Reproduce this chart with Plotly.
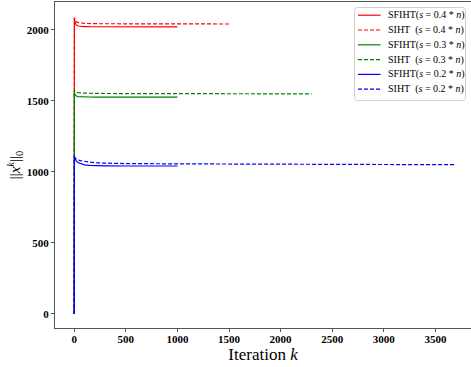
import plotly.graph_objects as go

# Iteration indices (sparse points)
k_sfiht = [0, 2, 5, 10, 20, 40, 70, 100, 150, 200, 300, 500, 1000]
k_siht_04 = [0, 2, 5, 10, 20, 40, 70, 100, 200, 500, 1000, 1510]
k_siht_03 = [0, 2, 5, 10, 20, 40, 70, 100, 200, 500, 1000, 2300]
k_siht_02 = [0, 2, 5, 10, 20, 40, 70, 100, 150, 200, 300, 500, 1000, 2000, 3690]

sfiht_04 = [0, 2085, 2070, 2050, 2035, 2028, 2025, 2024, 2023, 2023, 2023, 2022, 2022]
siht_04 = [0, 2087, 2076, 2066, 2058, 2052, 2048, 2046, 2044, 2043, 2042, 2042]
sfiht_03 = [0, 1565, 1552, 1542, 1535, 1531, 1529, 1528, 1528, 1527, 1527, 1527, 1527]
siht_03 = [0, 1578, 1570, 1565, 1561, 1558, 1556, 1555, 1553, 1552, 1551, 1550]
sfiht_02 = [0, 1115, 1100, 1090, 1078, 1065, 1055, 1050, 1046, 1044, 1043, 1042, 1042]
siht_02 = [0, 1105, 1100, 1096, 1091, 1084, 1078, 1074, 1069, 1065, 1062, 1059, 1057, 1054, 1051]

labels = [
    "SFIHT(<i>s</i> = 0.4 * <i>n</i>)",
    "SIHT\u00a0\u00a0(<i>s</i> = 0.4 * <i>n</i>)",
    "SFIHT(<i>s</i> = 0.3 * <i>n</i>)",
    "SIHT\u00a0\u00a0(<i>s</i> = 0.3 * <i>n</i>)",
    "SFIHT(<i>s</i> = 0.2 * <i>n</i>)",
    "SIHT\u00a0\u00a0(<i>s</i> = 0.2 * <i>n</i>)",
]

x_ticks = [0, 500, 1000, 1500, 2000, 2500, 3000, 3500]
y_ticks = [0, 500, 1000, 1500, 2000]

colors = ["#ff0000", "#ff0000", "#008000", "#008000", "#0000ff", "#0000ff"]
dashes = ["solid", "4px,2px", "solid", "4px,2px", "solid", "4px,2px"]
xs_all = [k_sfiht, k_siht_04, k_sfiht, k_siht_03, k_sfiht, k_siht_02]
ys_all = [sfiht_04, siht_04, sfiht_03, siht_03, sfiht_02, siht_02]

W, H = 471, 367
ML, MR, MT, MB = 55, 0, 2, 39
PW, PH = W - ML - MR, H - MT - MB


def px(xp):
    return (xp - ML) / PW


def py(yp):
    return 1 - (yp - MT) / PH


fig = go.Figure()
for xs, ys, col, dash, name in zip(xs_all, ys_all, colors, dashes, labels):
    fig.add_trace(go.Scatter(x=xs, y=ys, mode="lines", name=name, showlegend=False,
                             line=dict(color=col, width=1.2, dash=dash)))

serif = "Liberation Serif"
axcol = "#555555"

# manual legend (matplotlib-like compact spacing)
shapes = []
annotations = []
bx0, bx1, by0, by1, r = 354.5, 465.5, 7.5, 100.5, 3
path = (
    f"M {px(bx0 + r)} {py(by0)} L {px(bx1 - r)} {py(by0)} "
    f"Q {px(bx1)} {py(by0)} {px(bx1)} {py(by0 + r)} "
    f"L {px(bx1)} {py(by1 - r)} Q {px(bx1)} {py(by1)} {px(bx1 - r)} {py(by1)} "
    f"L {px(bx0 + r)} {py(by1)} Q {px(bx0)} {py(by1)} {px(bx0)} {py(by1 - r)} "
    f"L {px(bx0)} {py(by0 + r)} Q {px(bx0)} {py(by0)} {px(bx0 + r)} {py(by0)} Z"
)
shapes.append(dict(type="path", xref="paper", yref="paper", path=path,
                   line=dict(color="#d0d0d0", width=1), fillcolor="rgba(255,255,255,0.85)"))
row0, step = 15.2, 14.8
for i, (col, dash, name) in enumerate(zip(colors, dashes, labels)):
    yy = row0 + i * step
    shapes.append(dict(type="line", xref="paper", yref="paper",
                       x0=px(358), x1=px(380.5), y0=py(yy), y1=py(yy),
                       line=dict(color=col, width=1.2, dash=dash)))
    annotations.append(dict(xref="paper", yref="paper", x=px(387), y=py(yy),
                            xanchor="left", yanchor="middle", showarrow=False,
                            borderpad=0,
                            text=name, font=dict(family=serif, size=10, color="black")))

fig.update_layout(
    width=W, height=H,
    margin=dict(l=ML, r=MR, t=MT, b=MB),
    paper_bgcolor="white", plot_bgcolor="white",
    font=dict(family=serif, color="black"),
    showlegend=False,
    shapes=shapes,
    annotations=annotations,
)
fig.update_xaxes(
    range=[-186, 3845], tickvals=x_ticks, ticktext=[str(v) for v in x_ticks],
    showgrid=False, zeroline=False, showline=True, linecolor=axcol, linewidth=1.2,
    mirror=True, ticks="outside", ticklen=3, tickcolor=axcol,
    tickfont=dict(family=serif, size=11, weight="bold"),
    ticklabelstandoff=-2,
    title=dict(text="Iteration <i>k</i>", font=dict(family=serif, size=17), standoff=0),
    automargin=False,
)
fig.update_yaxes(
    range=[-99, 2197], tickvals=y_ticks, ticktext=[str(v) for v in y_ticks],
    showgrid=False, zeroline=False, showline=True, linecolor=axcol, linewidth=1.2,
    ticks="outside", ticklen=3, tickcolor=axcol,
    tickfont=dict(family=serif, size=11, weight="bold"),
    title=dict(text="||<i>x</i><sup><i>k</i></sup>||<sub>0</sub>", font=dict(family=serif, size=15), standoff=2),
    automargin=False,
)

fig.write_html("out.html", config={"displayModeBar": False},
               post_script="document.body.style.margin='0';document.body.style.padding='0';")
